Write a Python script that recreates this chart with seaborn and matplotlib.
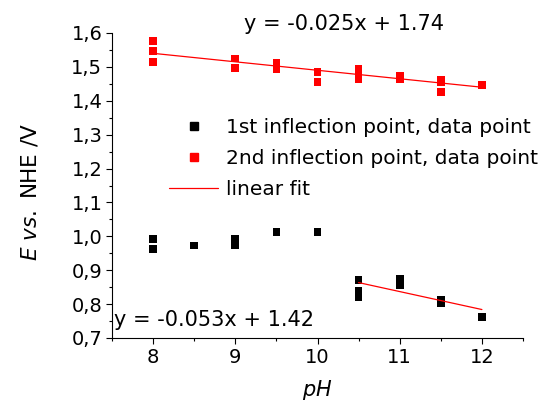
import matplotlib
matplotlib.use("Agg")
import matplotlib.pyplot as plt
import seaborn as sns
import numpy as np
import pandas as pd
from matplotlib.lines import Line2D
from matplotlib.ticker import MultipleLocator, FuncFormatter

# ---- data ----
ph1 = [8, 8, 8.5, 9, 9, 9, 9.5, 10, 10.5, 10.5, 10.5, 10.5, 11, 11, 11, 11.5, 11.5, 12]
e1 = [0.993, 0.962, 0.973, 0.993, 0.982, 0.973, 1.012, 1.012, 0.871, 0.840, 0.830, 0.820, 0.875, 0.862, 0.855, 0.813, 0.802, 0.762]
ph2 = [8, 8, 8, 9, 9, 9.5, 9.5, 9.5, 10, 10, 10.5, 10.5, 10.5, 11, 11, 11.5, 11.5, 11.5, 12]
e2 = [1.576, 1.547, 1.515, 1.525, 1.497, 1.512, 1.502, 1.493, 1.485, 1.455, 1.495, 1.478, 1.465, 1.474, 1.463, 1.463, 1.456, 1.426, 1.446]
fit_slopes = [-0.025, -0.053]
fit_intercepts = [1.74, 1.42]
fit_xranges = [[8, 12], [10.5, 12]]
fit_labels = ["y = -0.025x + 1.74", "y = -0.053x + 1.42"]
legend_labels = ["1st inflection point, data point", "2nd inflection point, data point", "linear fit"]

sns.set_style("white")
plt.rcParams['font.family'] = ['DejaVu Sans']
plt.rcParams['mathtext.fontset'] = 'dejavusans'
plt.rcParams['text.color'] = 'black'
plt.rcParams['axes.labelcolor'] = 'black'
plt.rcParams['xtick.color'] = 'black'
plt.rcParams['ytick.color'] = 'black'

fig = plt.figure(figsize=(5.56, 4.07), dpi=100)
ax = fig.add_axes([112/556, 1 - 338/407, (523-112)/556, (338-33)/407])

df1 = pd.DataFrame({"pH": ph1, "E": e1})
df2 = pd.DataFrame({"pH": ph2, "E": e2})
sns.scatterplot(data=df1, x="pH", y="E", ax=ax, marker="s", s=30, color="black", edgecolor="none", linewidth=0)
sns.scatterplot(data=df2, x="pH", y="E", ax=ax, marker="s", s=30, color="#ff0000", edgecolor="none", linewidth=0)

for m, b, xr in zip(fit_slopes, fit_intercepts, fit_xranges):
    xs = np.array(xr, dtype=float)
    fdf = pd.DataFrame({"pH": xs, "E": m * xs + b})
    sns.lineplot(data=fdf, x="pH", y="E", ax=ax, color="#ff0000", linewidth=0.9)

ax.set_xlim(7.5, 12.5)
ax.set_ylim(0.7, 1.6)
ax.xaxis.set_major_locator(MultipleLocator(1))
ax.xaxis.set_minor_locator(MultipleLocator(0.5))
ax.yaxis.set_major_locator(MultipleLocator(0.1))
ax.yaxis.set_minor_locator(MultipleLocator(0.05))
ax.yaxis.set_major_formatter(FuncFormatter(lambda v, p: f"{v:.1f}".replace(".", ",")))
ax.tick_params(which="major", direction="out", length=4, width=0.8, labelsize=14, colors="black",
               left=True, bottom=True, pad=3)
ax.tick_params(which="minor", direction="out", length=2.5, width=0.8, colors="black", left=True, bottom=True)
for s in ["top", "right"]:
    ax.spines[s].set_visible(False)
for s in ["left", "bottom"]:
    ax.spines[s].set_color("black")
    ax.spines[s].set_linewidth(0.8)

ax.set_xlabel(r"$\it{pH}$", fontsize=15, labelpad=8)
ax.set_ylabel(r"$\it{E}$ $\it{vs.}$ NHE /V", fontsize=15.5)
ax.yaxis.set_label_coords(-0.175, 0.478)

fig.text(344/556, 1 - 24/407, fit_labels[0], fontsize=15, ha="center", va="center")
ax.text(0.005, 0.06, fit_labels[1], transform=ax.transAxes, fontsize=15, ha="left", va="center")

handles = [
    Line2D([], [], marker="s", color="black", linestyle="none", markersize=5.5),
    Line2D([], [], marker="s", color="#ff0000", linestyle="none", markersize=5.5),
    Line2D([], [], color="#ff0000", linewidth=0.9),
]
ax.legend(handles, legend_labels, loc="upper left", bbox_to_anchor=(0.115, 0.755), frameon=False,
          fontsize=14.5, handlelength=2.4, handletextpad=0.4, labelspacing=0.6, borderpad=0)

fig.savefig("out.png", dpi=100)
